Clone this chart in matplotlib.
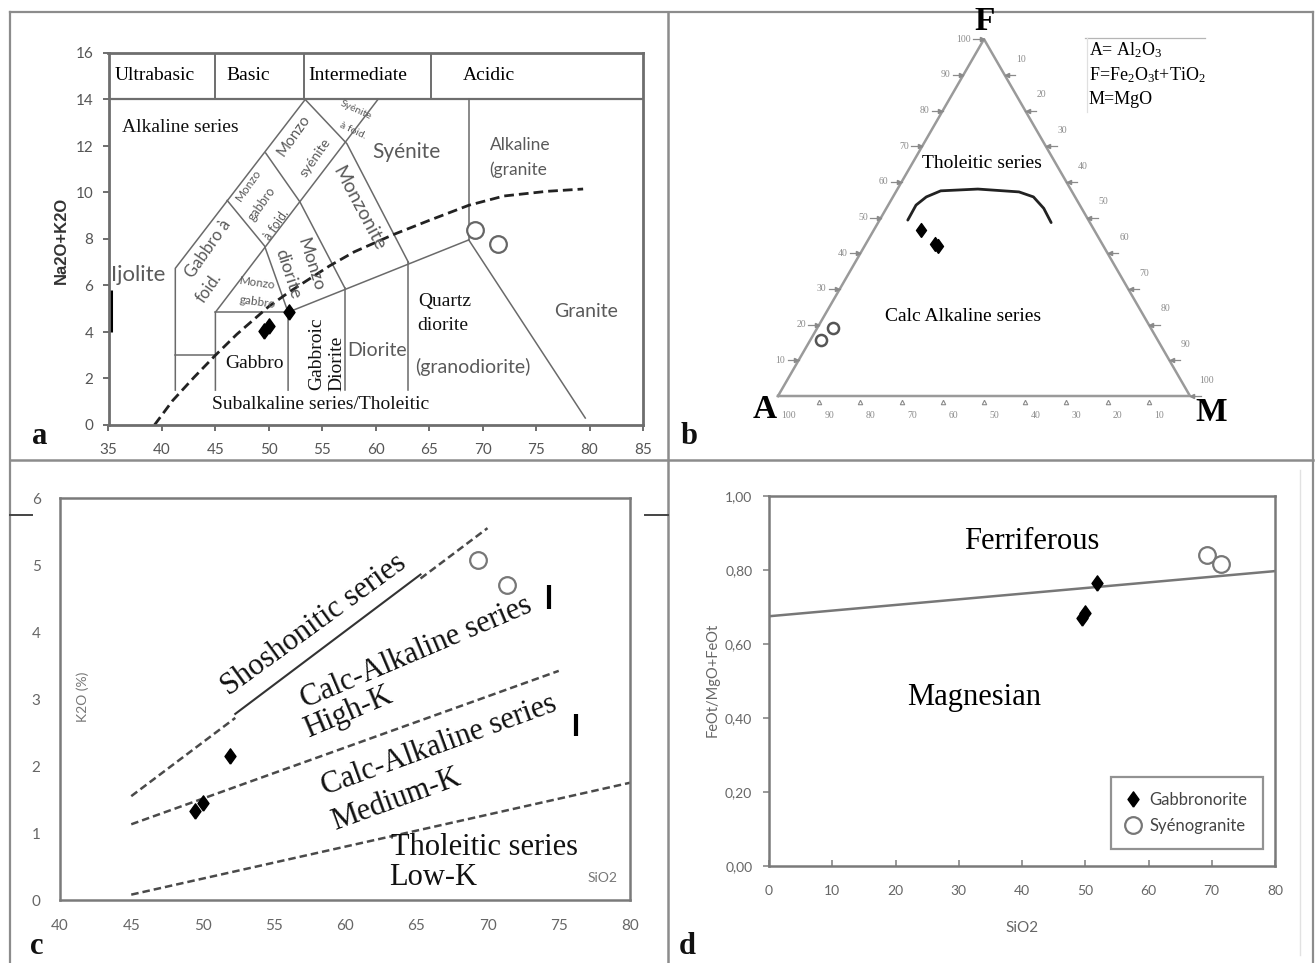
import numpy as np
import matplotlib
matplotlib.use("Agg")
import matplotlib.pyplot as plt
from matplotlib.lines import Line2D

plt.rcParams['mathtext.default'] = 'regular'

W, H = 1315, 963
SERIF = 'Liberation Serif'
SANS = 'Lato'
GREY = '#555555'
FRAME = '#6e6e6e'
FIELD = '#6a6a6a'

# ---------------- sample data ----------------
gab_sio2 = [49.5, 50.0, 51.9]
gab_alk = [4.05, 4.25, 4.85]
gab_k2o = [1.33, 1.45, 2.15]
gab_fe = [0.670, 0.685, 0.765]
gab_A = [42.0, 40.0, 40.5]
gab_F = [46.5, 42.1, 42.6]
gab_M = [11.5, 17.9, 16.9]

syn_sio2 = [69.3, 71.4]
syn_alk = [8.40, 7.80]
syn_k2o = [5.08, 4.70]
syn_fe = [0.840, 0.815]
syn_A = [77.0, 81.6]
syn_F = [19.1, 15.8]
syn_M = [3.9, 2.6]

# ---------------- TAS (Middlemost) field boundaries ----------------
tas_fields = [
    [(41.25, 1.5), (41.25, 6.74), (53.4, 14.0)],
    [(41.25, 3.0), (45.0, 3.0)],
    [(45.0, 1.5), (45.0, 4.85), (60.2, 14.0)],
    [(45.0, 4.85), (51.8, 4.85)],
    [(51.8, 1.5), (51.8, 4.85), (68.7, 7.96)],
    [(57.1, 1.5), (57.1, 5.9)],
    [(63.05, 1.5), (63.05, 7.0)],
    [(68.7, 7.96), (68.7, 14.0)],
    [(68.7, 7.96), (79.6, 0.3)],
    [(53.4, 14.0), (57.3, 12.1), (63.05, 7.0)],
    [(49.7, 11.7), (52.9, 9.6), (57.1, 5.9)],
    [(46.1, 9.66), (49.6, 7.7), (51.8, 4.85)],
]
class_bounds = [45.0, 53.3, 65.2]
class_names = ['Ultrabasic', 'Basic', 'Intermediate', 'Acidic']
class_pos = [39.35, 48.05, 58.35, 70.6]

# Irvine & Baragar alkaline / subalkaline divide
ib_sio2 = [39.3, 41.0, 43.0, 45.0, 47.0, 50.0, 52.0, 55.7, 58.0, 61.7, 65.0, 68.7, 72.0, 76.0, 79.4]
ib_alk = [0.0, 1.05, 2.05, 3.0, 3.9, 5.1, 5.75, 6.85, 7.45, 8.2, 8.8, 9.45, 9.85, 10.05, 10.15]

# ---------------- AFM boundary ----------------
afm_F = [49.3, 53.5, 55.8, 57.5, 58.0, 57.2, 55.8, 52.6, 48.6]
afm_M = [6.85, 6.75, 8.1, 10.75, 19.5, 29.9, 34.1, 38.2, 42.0]

# ---------------- K2O-SiO2 series boundaries ----------------
sho_x, sho_y = [45.0, 70.0], [1.55, 5.55]
hk_x, hk_y = [45.0, 75.0], [1.13, 3.42]
lk_x, lk_y = [45.0, 80.0], [0.08, 1.75]

# ---------------- Fe-number divide ----------------
fe_x, fe_y = [0.0, 80.0], [0.675, 0.797]

dia = [(0, -1.0), (0.72, 0), (0, 1.0), (-0.72, 0), (0, -1.0)]

fig = plt.figure(figsize=(W / 100, H / 100), dpi=100)


def fbox(x0, x1, y0, y1):
    return [x0 / W, 1 - y1 / H, (x1 - x0) / W, (y1 - y0) / H]


def fline(xs, ys, **kw):
    fig.add_artist(Line2D([x / W for x in xs], [1 - y / H for y in ys],
                          transform=fig.transFigure, **kw))


def ftext(x, y, s, **kw):
    fig.text(x / W, 1 - y / H, s, **kw)


# panel frames
fc = '#8c8c8c'
fline([10, 1313], [12, 12], color=fc, lw=1.6)
fline([10, 10], [12, 963], color=fc, lw=1.6)
fline([1313, 1313], [12, 963], color=fc, lw=1.6)
fline([668, 668], [12, 963], color=fc, lw=1.8)
fline([10, 1313], [460, 460], color=fc, lw=1.8)
fline([1300, 1300], [470, 955], color='#e2e2e2', lw=1.0)
fline([10, 32], [515, 515], color='#444444', lw=1.4)
fline([645, 668], [515, 515], color='#444444', lw=1.4)

for lab, (x, y) in zip('abcd', [(40, 437), (689, 436), (37, 946), (687, 946)]):
    ftext(x, y, lab, family=SERIF, weight='bold', fontsize=22, ha='center', va='center', color='#111111')

# ================= panel a : TAS =================
ax = fig.add_axes(fbox(108.5, 643, 53, 425))
ax.set_xlim(35, 85)
ax.set_ylim(0, 16)
for s in ax.spines.values():
    s.set_color(FRAME)
    s.set_linewidth(2.0)
ax.set_xticks(np.arange(35, 86, 5))
ax.set_yticks(np.arange(0, 17, 2))
ax.tick_params(direction='out', length=4, width=1.4, color=FRAME, labelsize=11,
               labelcolor=GREY)
ax.tick_params(axis='y', pad=7)
ax.tick_params(axis='x', pad=9)
for t in ax.get_xticklabels() + ax.get_yticklabels():
    t.set_family(SANS)

ax.axhline(14, color=FRAME, lw=1.6)
for xb in class_bounds:
    ax.plot([xb, xb], [14, 16], color=FRAME, lw=1.4)
for name, xc in zip(class_names, class_pos):
    ax.text(xc, 15.05, name, family=SERIF, fontsize=14, ha='center', va='center')

for seg in tas_fields:
    xs, ys = zip(*seg)
    ax.plot(xs, ys, color=FIELD, lw=1.1)

ax.plot(ib_sio2, ib_alk, color='#222222', lw=2.0, dashes=(3.5, 1.8))
ax.plot([35.25, 35.25], [4.0, 5.8], color='black', lw=2.2, solid_capstyle='butt')

ax.plot(gab_sio2, gab_alk, ls='none', marker=dia, ms=11, color='black')
ax.plot(syn_sio2, syn_alk, ls='none', marker='o', ms=12, mfc='white', mec='#666666', mew=1.6)

sf = dict(family=SERIF, color='#111111', ha='center', va='center')
gs = dict(family=SANS, color='#5a5a5a', ha='center', va='center')
ax.text(41.7, 12.8, 'Alkaline series', fontsize=14, **sf)
ax.text(37.75, 6.45, 'Ijolite', fontsize=16, **gs)
ax.text(44.3, 7.6, 'Gabbro à', fontsize=12, rotation=55, **gs)
ax.text(44.4, 5.9, 'foid.', fontsize=12, rotation=55, **gs)
ax.text(48.1, 10.3, 'Monzo', fontsize=8.5, rotation=55, **gs)
ax.text(49.3, 9.5, 'gabbro', fontsize=9, rotation=55, **gs)
ax.text(50.7, 8.6, 'à foid.', fontsize=9, rotation=55, **gs)
ax.text(52.3, 12.45, 'Monzo', fontsize=11, rotation=55, **gs)
ax.text(54.3, 11.5, 'syénite', fontsize=10, rotation=55, **gs)
ax.text(58.1, 13.55, 'Syénite', fontsize=7.5, rotation=-25, **gs)
ax.text(57.9, 12.65, 'à foid.', fontsize=7.5, rotation=-25, **gs)
ax.text(62.9, 11.75, 'Syénite', fontsize=15, **gs)
ax.text(58.4, 9.3, 'Monzonite', fontsize=14, rotation=-62, **gs)
ax.text(53.9, 6.9, 'Monzo', fontsize=13, rotation=-72, **gs)
ax.text(51.8, 6.5, 'diorite', fontsize=13, rotation=-72, **gs)
ax.text(48.9, 6.1, 'Monzo', fontsize=8.5, rotation=-8, **gs)
ax.text(48.9, 5.3, 'gabbro', fontsize=8.5, rotation=-8, **gs)
ax.text(48.7, 2.65, 'Gabbro', fontsize=14, **sf)
ax.text(54.5, 3.05, 'Gabbroic', fontsize=14, rotation=90, **sf)
ax.text(56.35, 2.65, 'Diorite', fontsize=14, rotation=90, **sf)
ax.text(60.1, 3.2, 'Diorite', fontsize=14, **gs)
ax.text(66.5, 5.3, 'Quartz', fontsize=14, **sf)
ax.text(66.3, 4.3, 'diorite', fontsize=14, **sf)
ax.text(69.1, 2.5, '(granodiorite)', fontsize=14, **gs)
ax.text(73.5, 12.05, 'Alkaline', fontsize=12.5, **gs)
ax.text(73.3, 11.0, '(granite', fontsize=12.5, **gs)
ax.text(79.7, 4.9, 'Granite', fontsize=14, **gs)
ax.text(54.8, 0.9, 'Subalkaline series/Tholeitic', fontsize=14, **sf)

ftext(61, 240, 'Na2O+K2O', family='Liberation Sans', weight='bold', fontsize=12,
      rotation=90, ha='center', va='center', color='#333333')

# ================= panel b : AFM =================
axb = fig.add_axes(fbox(690, 1300, 20, 440))
k = 4.12
axb.set_xlim((690 - 778) / k, (1300 - 778) / k)
axb.set_ylim((396 - 440) / k, (396 - 20) / k)
axb.axis('off')
S3 = np.sqrt(3) / 2


def tern(a, f, m):
    a, f, m = (np.asarray(v, float) for v in (a, f, m))
    tot = a + f + m
    f = f / tot * 100
    m = m / tot * 100
    return m + f / 2, f * S3


tx, ty = tern([100, 0, 0, 100], [0, 0, 100, 0], [0, 100, 0, 0])
axb.plot(tx, ty, color='#9a9a9a', lw=1.8)

tick_c = '#8a8a8a'
lab_c = '#8c8c8c'
for v in range(10, 101, 10):
    # F axis (left edge)
    x, y = tern(100 - v, v, 0)
    axb.plot([x - 2.6, x], [y, y], color=tick_c, lw=0.9)
    axb.plot(x - 0.6, y, marker='>', ms=3, color=tick_c)
    axb.text(x - 3.2, y, str(v), fontsize=7, color=lab_c, ha='right', va='center', family=SERIF)
    # M axis (right edge)
    x, y = tern(0, 100 - v, v)
    axb.plot([x, x + 2.6], [y, y], color=tick_c, lw=0.9)
    axb.plot(x + 0.6, y, marker='<', ms=3, color=tick_c)
    axb.text(x + 4.0, y + 3.8, str(v), fontsize=7, color=lab_c, ha='center', va='center', family=SERIF)
    # A axis (base)
    x, y = tern(v, 0, 100 - v)
    if v < 100:
        axb.plot(x, y - 1.4, marker='^', ms=3.2, mfc='none', mec=tick_c, mew=0.8)
    axb.text(x + 2.5, y - 4.8, str(v), fontsize=7, color=lab_c, ha='center', va='center', family=SERIF)

cx, cy = tern(100 - np.array(afm_F) - np.array(afm_M), afm_F, afm_M)
axb.plot(cx, cy, color='#222222', lw=2.0, solid_capstyle='round')

gx, gy = tern(gab_A, gab_F, gab_M)
axb.plot(gx, gy, ls='none', marker=dia, ms=10, color='black')
sx, sy = tern(syn_A, syn_F, syn_M)
axb.plot(sx, sy, ls='none', marker='o', ms=8, mfc='white', mec='#555555', mew=1.8)

axb.text(49.5, 56.4, 'Tholeitic series', family=SERIF, fontsize=14, ha='center', va='center')
axb.text(45.0, 19.3, 'Calc Alkaline series', family=SERIF, fontsize=14, ha='center', va='center')

ftext(985, 22, 'F', family=SERIF, weight='bold', fontsize=24, ha='center', va='center')
ftext(765, 410, 'A', family=SERIF, weight='bold', fontsize=24, ha='center', va='center')
ftext(1211, 412, 'M', family=SERIF, weight='bold', fontsize=24, ha='center', va='center')

fline([1085, 1205], [38, 38], color='#b5b5b5', lw=0.9)
fline([1087, 1087], [38, 112], color='#e0e0e0', lw=0.9)
ftext(1089, 50, 'A= Al$_2$O$_3$', family=SERIF, fontsize=13, ha='left', va='center')
ftext(1089, 75, 'F=Fe$_2$O$_3$t+TiO$_2$', family=SERIF, fontsize=13, ha='left', va='center')
ftext(1089, 100, 'M=MgO', family=SERIF, fontsize=13, ha='left', va='center')

# ================= panel c : K2O vs SiO2 =================
axc = fig.add_axes(fbox(60, 630, 498, 900))
axc.set_xlim(40, 80)
axc.set_ylim(0, 6)
for s in axc.spines.values():
    s.set_color('#7a7a7a')
    s.set_linewidth(1.8)
axc.set_xticks(np.arange(40, 81, 5))
axc.set_yticks(np.arange(0, 7, 1))
axc.tick_params(length=0, labelsize=11, labelcolor='#666666')
axc.tick_params(axis='y', pad=14)
axc.tick_params(axis='x', pad=14)
for t in axc.get_xticklabels() + axc.get_yticklabels():
    t.set_family(SANS)

dash_c = '#4a4a4a'
xa, xb_ = 52.3, 65.3
ya, yb = np.interp([xa, xb_], sho_x, sho_y)
axc.plot([sho_x[0], xa], [sho_y[0], ya], color=dash_c, lw=1.8, dashes=(3, 1.6))
axc.plot([xa, xb_], [ya + 0.06, yb + 0.06], color='#333333', lw=1.5)
axc.plot([xb_, sho_x[1]], [yb, sho_y[1]], color=dash_c, lw=1.8, dashes=(3, 1.6))
axc.plot(hk_x, hk_y, color=dash_c, lw=1.8, dashes=(3, 1.6))
axc.plot(lk_x, lk_y, color=dash_c, lw=1.8, dashes=(3, 1.6))

axc.plot(gab_sio2, gab_k2o, ls='none', marker=dia, ms=11, color='black')
axc.plot(syn_sio2, syn_k2o, ls='none', marker='o', ms=12, mfc='white', mec='#777777', mew=1.6)

tc = dict(family=SERIF, color='#111111', ha='center', va='center', rotation_mode='anchor')
axc.text(57.8, 4.1, 'Shoshonitic series', fontsize=22, rotation=36, **tc)
axc.text(65.0, 3.69, 'Calc-Alkaline series', fontsize=22, rotation=23, **tc)
axc.text(60.2, 2.8, 'High-K', fontsize=22, rotation=23, **tc)
axc.text(66.6, 2.3, 'Calc-Alkaline series', fontsize=22, rotation=20, **tc)
axc.text(63.6, 1.49, 'Medium-K', fontsize=22, rotation=20, **tc)
axc.text(69.8, 0.78, 'Tholeitic series', fontsize=22, **tc)
axc.text(66.2, 0.33, 'Low-K', fontsize=22, **tc)
axc.text(78.1, 0.33, 'SiO2', family=SANS, fontsize=10, color='#777777', ha='center', va='center')
axc.plot([74.3, 74.3], [4.35, 4.7], color='black', lw=3, solid_capstyle='butt')
axc.plot([76.2, 76.2], [2.45, 2.78], color='black', lw=3, solid_capstyle='butt')

ftext(83, 697, 'K2O (%)', family=SANS, fontsize=10, rotation=90, ha='center', va='center',
      color='#777777')

# ================= panel d : Fe-number vs SiO2 =================
axd = fig.add_axes(fbox(769, 1275, 496, 866))
axd.set_xlim(0, 80)
axd.set_ylim(0, 1)
for s in axd.spines.values():
    s.set_color('#7a7a7a')
    s.set_linewidth(1.8)
axd.set_xticks(np.arange(0, 81, 10))
yt = np.arange(0, 1.01, 0.2)
axd.set_yticks(yt)
axd.set_yticklabels([('%.2f' % v).replace('.', ',') for v in yt])
axd.tick_params(axis='x', direction='in', length=4, width=1.2, color='#888888', pad=14,
                labelsize=10, labelcolor='#666666')
axd.tick_params(axis='y', direction='out', length=4, width=1.2, color='#888888', pad=8,
                labelsize=10, labelcolor='#666666')
for t in axd.get_xticklabels() + axd.get_yticklabels():
    t.set_family(SANS)

axd.plot(fe_x, fe_y, color='#777777', lw=1.8)
hg, = axd.plot(gab_sio2, gab_fe, ls='none', marker=dia, ms=11, color='black', label='Gabbronorite')
hs, = axd.plot(syn_sio2, syn_fe, ls='none', marker='o', ms=12, mfc='white', mec='#777777', mew=1.6,
               label='Syénogranite')
axd.text(41.5, 0.878, 'Ferriferous', family=SERIF, fontsize=22, ha='center', va='center')
axd.text(32.5, 0.455, 'Magnesian', family=SERIF, fontsize=22, ha='center', va='center')

leg = axd.legend(handles=[hg, hs], loc='lower right', bbox_to_anchor=(0.992, 0.024),
                 frameon=True, fancybox=False, prop=dict(family=SANS, size=12),
                 handlelength=0.8, handletextpad=0.6, borderpad=0.9, labelspacing=0.6)
leg.get_frame().set_edgecolor('#777777')
leg.get_frame().set_linewidth(1.6)
for t in leg.get_texts():
    t.set_color('#444444')

ftext(713, 680, 'FeOt/MgO+FeOt', family=SANS, fontsize=10.5, rotation=90, ha='center',
      va='center', color='#666666')
ftext(1022, 928, 'SiO2', family=SANS, fontsize=11, ha='center', va='center', color='#666666')

fig.savefig('out.png', dpi=100)
